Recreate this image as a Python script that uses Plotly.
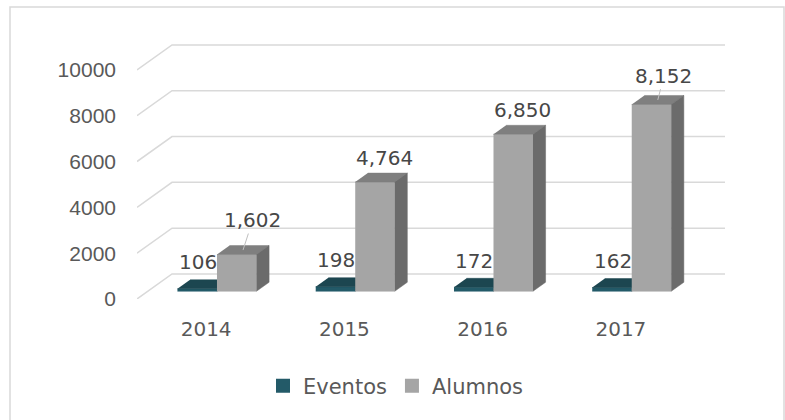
import plotly.graph_objects as go

# --- data ---
years = ["2014", "2015", "2016", "2017"]
eventos = [106, 198, 172, 162]
alumnos = [1602, 4764, 6850, 8152]
y_ticks = [0, 2000, 4000, 6000, 8000, 10000]

# --- fake 3D geometry ---
W, H = 785, 420
L, R, T, B = 137, 60, 44, 121
pw, ph = W - L - R, H - T - B
x_max = 4.253
y_max = 11130
px_x = pw / x_max          # pixels per category unit
px_y = ph / y_max          # pixels per value unit
DX = 35 / px_x             # depth of the back wall
DY = 25 / px_y
f0, f1 = 0.31, 0.67        # bars sit between these depth fractions
bw = 39.5 / px_x
dd, ddy = (f1 - f0) * DX, (f1 - f0) * DY
yb = f0 * DY

grid_c = "#d9d9d9"
ev_cols = ("#235a68", "#1c4650", "#163840")   # front, top, side
al_cols = ("#a5a5a5", "#7f7f7f", "#6b6b6b")

fig = go.Figure()

# gridlines: diagonal on the floor side + back wall
gx, gy = [], []
for v in y_ticks:
    gx += [0, DX, x_max, None]
    gy += [v, v + DY, v + DY, None]
fig.add_trace(go.Scatter(x=gx, y=gy, mode="lines", line=dict(color=grid_c, width=1.5),
                         hoverinfo="skip", showlegend=False))


def box(x0, x1, val, cols):
    top = yb + val
    faces = [
        ([x0, x1, x1, x0], [yb, yb, top, top], cols[0]),
        ([x0, x1, x1 + dd, x0 + dd], [top, top, top + ddy, top + ddy], cols[1]),
        ([x1, x1 + dd, x1 + dd, x1], [yb, yb + ddy, top + ddy, top], cols[2]),
    ]
    for fx, fy, c in faces:
        fig.add_trace(go.Scatter(x=fx, y=fy, fill="toself", fillcolor=c, mode="lines",
                                 line=dict(color=c, width=0.5), hoverinfo="skip",
                                 showlegend=False))


annots = []
lab_font = dict(family="DejaVu Sans", size=20, color="#474747")
leaders = {0: (9.7, -30), 3: (6.2, -24.3)}
for i in range(len(years)):
    ci = i + 0.5 + f0 * DX
    box(ci - bw, ci, eventos[i], ev_cols)
    box(ci, ci + bw, alumnos[i], al_cols)
    annots.append(dict(x=ci, y=yb + eventos[i], text=str(eventos[i]), showarrow=False,
                       xanchor="right", yanchor="middle", yshift=26.5, xshift=2, font=lab_font))
    if i in leaders:
        ax, ay = leaders[i]
        annots.append(dict(x=ci + bw / 2 + dd / 2, y=yb + alumnos[i] + ddy / 2,
                           text=f"{alumnos[i]:,}", showarrow=True, arrowhead=0,
                           arrowwidth=1, arrowcolor="#bfbfbf", ax=ax, ay=ay,
                           standoff=0, font=lab_font))
    else:
        annots.append(dict(x=ci + bw / 2, y=yb + alumnos[i] + ddy, text=f"{alumnos[i]:,}",
                           showarrow=False, yanchor="middle", xshift=9.5, yshift=15,
                           font=lab_font))

# legend entries
fig.add_trace(go.Scatter(x=[None], y=[None], mode="markers", name="Eventos",
                         marker=dict(symbol="square", size=14, color=ev_cols[0])))
fig.add_trace(go.Scatter(x=[None], y=[None], mode="markers", name="Alumnos",
                         marker=dict(symbol="square", size=14, color=al_cols[0])))

fig.update_layout(
    width=W, height=H,
    margin=dict(l=L, r=R, t=T, b=B),
    paper_bgcolor="white", plot_bgcolor="white",
    annotations=annots,
    showlegend=True,
    legend=dict(orientation="h", x=(396 - L) / pw, xanchor="center",
                y=-(386 - (H - B)) / ph, yanchor="middle",
                font=dict(family="DejaVu Sans", size=21, color="#595959"),
                bgcolor="rgba(0,0,0,0)"),
    shapes=[dict(type="rect", xref="paper", yref="paper",
                 x0=(10 - L) / pw, x1=(784 - L) / pw,
                 y0=((H - B) - 424) / ph, y1=((H - B) - 7) / ph,
                 line=dict(color=grid_c, width=1.5))],
    xaxis=dict(range=[0, x_max], showgrid=False, zeroline=False, showline=False,
               tickvals=[i + 0.5 for i in range(len(years))], ticktext=years,
               tickfont=dict(family="DejaVu Sans", size=20, color="#595959"),
               ticklabelstandoff=16, fixedrange=True),
    yaxis=dict(range=[0, y_max], showgrid=False, zeroline=False, showline=False,
               tickvals=y_ticks, ticktext=[str(v) for v in y_ticks],
               tickfont=dict(family="Liberation Sans", size=21, color="#595959"),
               ticklabelstandoff=20, fixedrange=True),
)

fig.write_html("out.html", config={"displayModeBar": False},
               post_script="document.body.style.margin='0';")
